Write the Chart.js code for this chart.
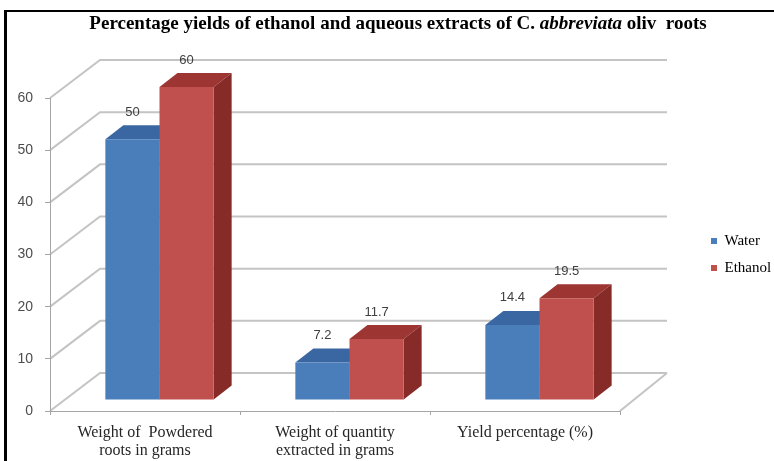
<!DOCTYPE html>
<html>
<head>
<meta charset="utf-8">
<script src="https://cdn.jsdelivr.net/npm/chart.js@4.4.1/dist/chart.umd.min.js"></script>
<style>
  html, body { margin: 0; padding: 0; background: #fff; }
  #wrap { width: 774px; height: 461px; position: relative; }
</style>
</head>
<body>
<div id="wrap"><canvas id="c" width="774" height="461"></canvas></div>
<script>
// ---- data ----
const categories = [
  ["Weight of  Powdered", "roots in grams"],
  ["Weight of quantity", "extracted in grams"],
  ["Yield percentage (%)"]
];
const seriesNames = ["Water", "Ethanol"];
const waterValues = [50, 7.2, 14.4];
const ethanolValues = [60, 11.7, 19.5];
const yTicks = [0, 10, 20, 30, 40, 50, 60];

// title, with the species name set in italics
const titleParts = [
  { text: "Percentage yields of ethanol and aqueous extracts of C. ", italic: false },
  { text: "abbreviata", italic: true },
  { text: " oliv  roots", italic: false }
];

// ---- 3-D look ----
const WALL_L = { x: 50, y: -38 };     // depth of the floor at the left edge
const WALL_R = { x: 47, y: -38 };     // depth of the floor at the right edge
const BAR_SHIFT = { x: 14.5, y: -11 };// bars stand a little behind the front edge
const BAR_DEPTH = { x: 18, y: -14 };  // thickness of each bar

const GRID = '#c4c4c4';
const AXIS = '#a6a6a6';

const depthPlugin = {
  id: 'depth',
  beforeDraw(chart) {
    const { ctx, chartArea: a, scales: { y } } = chart;
    ctx.save();
    ctx.fillStyle = '#fff';
    ctx.fillRect(0, 0, chart.width, chart.height);
    // frame
    ctx.fillStyle = '#000';
    ctx.fillRect(4, 10, 3, chart.height - 10);
    ctx.fillRect(4, 10, chart.width - 4, 2);

    // back wall gridlines and the left wall
    ctx.lineWidth = 2;
    ctx.strokeStyle = GRID;
    yTicks.forEach(v => {
      const py = y.getPixelForValue(v);
      ctx.beginPath();
      ctx.moveTo(a.left, py);
      ctx.lineTo(a.left + WALL_L.x, py + WALL_L.y);
      ctx.lineTo(a.right + WALL_R.x, py + WALL_R.y);
      ctx.stroke();
    });
    // right edge of the floor
    ctx.beginPath();
    ctx.moveTo(a.right, a.bottom);
    ctx.lineTo(a.right + WALL_R.x, a.bottom + WALL_R.y);
    ctx.stroke();
    ctx.restore();
  },
  beforeDatasetsDraw(chart) {
    const ctx = chart.ctx;
    ctx.save();
    ctx.translate(BAR_SHIFT.x, BAR_SHIFT.y);
    chart.data.datasets.forEach((ds, i) => {
      const meta = chart.getDatasetMeta(i);
      meta.data.forEach(bar => {
        const { x, y, base, width } = bar.getProps(['x', 'y', 'base', 'width'], true);
        const l = x - width / 2, r = x + width / 2;
        ctx.fillStyle = ds.topColor;
        ctx.beginPath();
        ctx.moveTo(l, y);
        ctx.lineTo(r, y);
        ctx.lineTo(r + BAR_DEPTH.x, y + BAR_DEPTH.y);
        ctx.lineTo(l + BAR_DEPTH.x, y + BAR_DEPTH.y);
        ctx.closePath();
        ctx.fill();
        ctx.fillStyle = ds.sideColor;
        ctx.beginPath();
        ctx.moveTo(r, y);
        ctx.lineTo(r + BAR_DEPTH.x, y + BAR_DEPTH.y);
        ctx.lineTo(r + BAR_DEPTH.x, base + BAR_DEPTH.y);
        ctx.lineTo(r, base);
        ctx.closePath();
        ctx.fill();
      });
    });
  },
  afterDatasetsDraw(chart) {
    const ctx = chart.ctx;
    // value labels above each bar (still in the shifted bar plane)
    ctx.font = '13px "Liberation Sans", Arial, sans-serif';
    ctx.fillStyle = '#404040';
    ctx.textAlign = 'center';
    ctx.textBaseline = 'middle';
    chart.data.datasets.forEach((ds, i) => {
      chart.getDatasetMeta(i).data.forEach((bar, j) => {
        const { x, y } = bar.getProps(['x', 'y'], true);
        ctx.fillText(String(ds.data[j]), x, y - 27);
      });
    });
    ctx.restore();
  },
  afterDraw(chart) {
    const ctx = chart.ctx;
    ctx.save();
    const size = 19;
    const fontOf = p => (p.italic ? 'italic ' : '') + 'bold ' + size + 'px "Liberation Serif", "Times New Roman", serif';
    let total = 0;
    titleParts.forEach(p => { ctx.font = fontOf(p); total += ctx.measureText(p.text).width; });
    let x = 398 - total / 2;
    ctx.fillStyle = '#000';
    ctx.textBaseline = 'middle';
    ctx.textAlign = 'left';
    titleParts.forEach(p => {
      ctx.font = fontOf(p);
      ctx.fillText(p.text, x, 24);
      x += ctx.measureText(p.text).width;
    });
    ctx.restore();
  }
};

new Chart(document.getElementById('c'), {
  type: 'bar',
  data: {
    labels: categories,
    datasets: [
      { label: seriesNames[0], data: waterValues, backgroundColor: '#4a7ebb',
        topColor: '#3a67a2', sideColor: '#2f5487', borderWidth: 0, clip: false },
      { label: seriesNames[1], data: ethanolValues, backgroundColor: '#c0504d',
        topColor: '#9d3532', sideColor: '#862b28', borderWidth: 0, clip: false }
    ]
  },
  options: {
    responsive: false,
    devicePixelRatio: 1,
    animation: false,
    layout: { padding: { top: 98, left: 0, right: 0, bottom: 0 } },
    datasets: { bar: { categoryPercentage: 0.57, barPercentage: 1 } },
    plugins: {
      title: { display: false },
      tooltip: { enabled: false },
      legend: {
        position: 'right',
        align: 'center',
        fullSize: false,
        maxWidth: 75,
        labels: {
          boxWidth: 6, boxHeight: 6, padding: 12,
          color: '#000',
          font: { family: '"Liberation Serif", "Times New Roman", serif', size: 15 }
        }
      }
    },
    scales: {
      x: {
        offset: true,
        grid: { display: true, drawOnChartArea: false, drawTicks: true, tickLength: 4, color: AXIS, offset: true },
        border: { display: true, color: AXIS, width: 1 },
        ticks: {
          padding: 9, maxRotation: 0, autoSkip: false, color: '#262626',
          font: { family: '"Liberation Serif", "Times New Roman", serif', size: 16, lineHeight: 1.125 }
        },
        afterFit(s) { s.height = 50; }
      },
      y: {
        min: 0, max: 60,
        afterBuildTicks(s) { s.ticks = yTicks.map(v => ({ value: v })); },
        grid: { display: true, drawOnChartArea: false, drawTicks: true, tickLength: 5, color: AXIS },
        border: { display: true, color: AXIS, width: 1 },
        ticks: {
          padding: 12, color: '#4d4d4d',
          font: { family: '"Liberation Sans", Arial, sans-serif', size: 14 }
        },
        afterFit(s) { s.width = 50; }
      },
      // empty strip between the plot and the legend
      gap: {
        type: 'linear', position: 'right', display: true,
        grid: { display: false }, border: { display: false }, ticks: { display: false },
        afterFit(s) { s.width = 79; }
      }
    }
  },
  plugins: [depthPlugin]
});
</script>
</body>
</html>
